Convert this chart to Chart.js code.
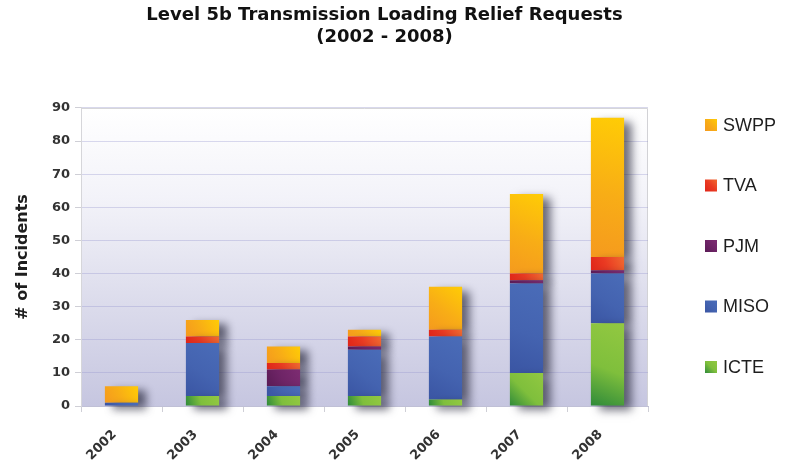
<!DOCTYPE html>
<html><head><meta charset="utf-8">
<script src="https://cdn.jsdelivr.net/npm/chart.js@4/dist/chart.umd.min.js"></script>
<style>html,body{margin:0;padding:0;background:#fff}</style>
</head><body>
<canvas id="c" width="796" height="460"></canvas>
<script>
// ---- data ----
const categories = ['2002','2003','2004','2005','2006','2007','2008'];
const seriesNames = ['ICTE','MISO','PJM','TVA','SWPP'];
const icte = [0, 3, 3, 3, 2, 10, 25];
const miso = [1, 16, 3, 14, 19, 27, 15];
const pjm  = [0, 0, 5, 1, 0, 1, 1];
const tva  = [0, 2, 2, 3, 2, 2, 4];
const swpp = [5, 5, 5, 2, 13, 24, 42];
const yTicks = [0, 10, 20, 30, 40, 50, 60, 70, 80, 90];
const titleLines = ['Level 5b Transmission Loading Relief Requests', '(2002 - 2008)'];
const yAxisTitle = '# of Incidents';

// ---- styles ----
const palette = {
  ICTE: ['#2f8a3a', '#7fbf3c', '#92c841'],
  MISO: ['#3a55a3', '#4463b0', '#4a6cb8'],
  PJM:  ['#5a1b55', '#6e2466', '#7d2c72'],
  TVA:  ['#df2519', '#ea3a22', '#f06a30'],
  SWPP: ['#f59a1e', '#f8ad16', '#ffcc05']
};
const seriesValues = [icte, miso, pjm, tva, swpp];
const BAR_PCT = 0.41;

function segFill(ctx) {
  const name = seriesNames[ctx.datasetIndex];
  const cols = palette[name];
  const chart = ctx.chart;
  const xs = chart.scales && chart.scales.x, ys = chart.scales && chart.scales.y;
  if (!chart.chartArea || !xs || !ys || ctx.dataIndex === undefined) return cols[1];
  let start = 0;
  for (let d = 0; d < ctx.datasetIndex; d++) start += chart.data.datasets[d].data[ctx.dataIndex];
  const end = start + chart.data.datasets[ctx.datasetIndex].data[ctx.dataIndex];
  const xc = xs.getPixelForValue(ctx.dataIndex);
  const hw = xs.width / categories.length * BAR_PCT / 2;
  const yb = ys.getPixelForValue(start), yt = ys.getPixelForValue(end);
  const g = chart.ctx.createLinearGradient(xc - hw, yb, xc + hw, Math.min(yt, yb - 1));
  g.addColorStop(0, cols[0]);
  g.addColorStop(0.45, cols[1]);
  g.addColorStop(1, cols[2]);
  return g;
}

const bgPlugin = {
  id: 'bgPlugin',
  beforeDraw(chart) {
    const {ctx, chartArea: a} = chart;
    ctx.save();
    const g = ctx.createLinearGradient(0, a.top, 0, a.bottom);
    g.addColorStop(0, '#ffffff');
    g.addColorStop(0.3, '#f3f3f9');
    g.addColorStop(0.65, '#dcdcec');
    g.addColorStop(1, '#c6c6e0');
    ctx.fillStyle = g;
    ctx.fillRect(a.left, a.top, a.right - a.left, a.bottom - a.top);
    ctx.strokeStyle = '#d2d2d6';
    ctx.lineWidth = 1;
    ctx.beginPath();
    ctx.moveTo(a.left, a.top + 0.5);
    ctx.lineTo(a.right - 0.5, a.top + 0.5);
    ctx.lineTo(a.right - 0.5, a.bottom);
    ctx.stroke();
    ctx.restore();
  }
};

const shadowPlugin = {
  id: 'shadowPlugin',
  beforeDatasetsDraw(chart) {
    const ctx = chart.ctx;
    ctx.save();
    ctx.shadowColor = 'rgba(30,30,50,0.65)';
    ctx.shadowBlur = 9;
    ctx.shadowOffsetX = 8;
    ctx.shadowOffsetY = 4;
  },
  afterDatasetsDraw(chart) {
    chart.ctx.restore();
  }
};

const legendPlugin = {
  id: 'sideLegend',
  afterDraw(chart, args, opts) {
    const ctx = chart.ctx;
    ctx.save();
    ctx.shadowColor = 'transparent';
    ctx.font = opts.font;
    ctx.textBaseline = 'middle';
    ctx.textAlign = 'left';
    const order = seriesNames.slice().reverse();
    order.forEach((name, i) => {
      const cy = opts.top + i * opts.step;
      const cols = palette[name];
      const g = ctx.createLinearGradient(opts.x, cy + 6, opts.x + 12, cy - 6);
      g.addColorStop(0, cols[0]); g.addColorStop(0.5, cols[1]); g.addColorStop(1, cols[2]);
      ctx.fillStyle = g;
      ctx.fillRect(opts.x, cy - 6, 12, 12);
      ctx.fillStyle = '#1e1e1e';
      ctx.fillText(name, opts.x + 18, cy + 1);
    });
    ctx.restore();
  }
};

new Chart(document.getElementById('c'), {
  type: 'bar',
  data: {
    labels: categories,
    datasets: seriesNames.map((n, i) => ({
      label: n,
      data: seriesValues[i],
      backgroundColor: segFill,
      borderWidth: 0,
      barPercentage: BAR_PCT,
      categoryPercentage: 1,
      clip: false
    }))
  },
  options: {
    responsive: false,
    animation: false,
    devicePixelRatio: 1,
    layout: { padding: { left: 0, right: 27, top: 0, bottom: 0 } },
    plugins: {
      legend: { display: false },
      tooltip: { enabled: false },
      title: {
        display: true,
        text: titleLines,
        color: '#111',
        font: { family: 'DejaVu Sans', weight: 'bold', size: 18, lineHeight: 1.22 },
        padding: { top: 4, bottom: 60 }
      },
      sideLegend: { x: 705, top: 125, step: 60.5, font: '18px "Liberation Sans"' }
    },
    scales: {
      x: {
        stacked: true,
        grid: { drawOnChartArea: false, offset: true, tickLength: 6, tickColor: '#cfcfd6' },
        border: { color: '#c0c0d6' },
        ticks: {
          minRotation: 45, maxRotation: 45, padding: 15, labelOffset: -7, color: '#333',
          font: { family: 'DejaVu Sans', weight: 'bold', size: 13 }
        },
        afterFit(s) { s.height = 54; }
      },
      y: {
        stacked: true,
        min: 0, max: 90,
        afterBuildTicks(s) { s.ticks = yTicks.map(v => ({ value: v })); },
        grid: { color: 'rgba(150,150,205,0.35)', tickLength: 6, tickColor: '#cfcfd6' },
        border: { color: '#d6d6da' },
        ticks: { color: '#333', padding: 5, font: { family: 'DejaVu Sans', weight: 'bold', size: 13 } },
        title: {
          display: true, text: yAxisTitle, color: '#1e1e1e',
          font: { family: 'DejaVu Sans', weight: 'bold', size: 16 },
          padding: { top: 13, bottom: 0 }
        },
        afterFit(s) { s.width = 81; }
      },
      y2: {
        position: 'right',
        display: true,
        grid: { display: false },
        border: { display: false },
        ticks: { display: false },
        afterFit(s) { s.width = 121; }
      }
    }
  },
  plugins: [bgPlugin, shadowPlugin, legendPlugin]
});
</script>
</body></html>
